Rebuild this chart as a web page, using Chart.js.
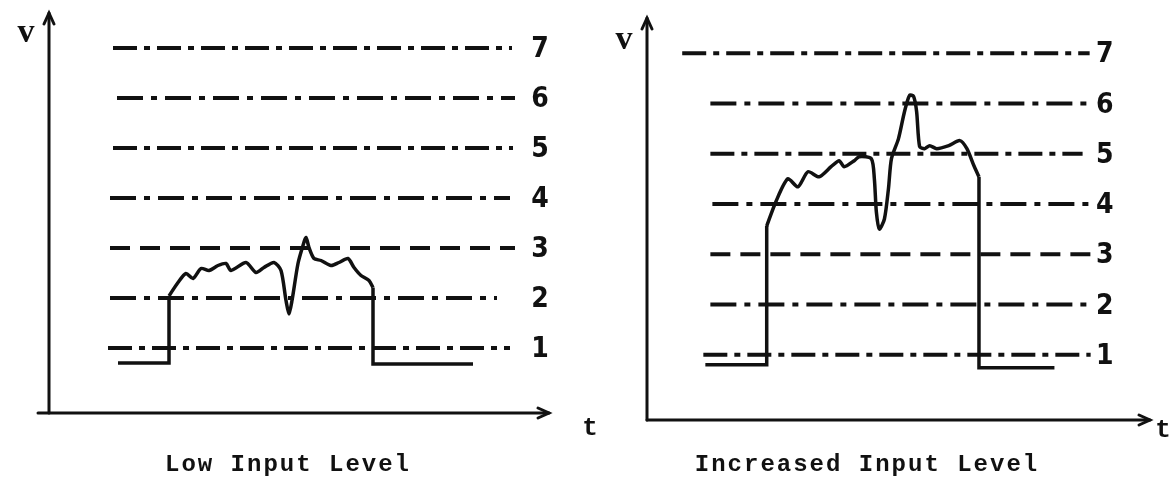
<!DOCTYPE html>
<html>
<head>
<meta charset="utf-8">
<script src="https://cdn.jsdelivr.net/npm/chart.js@4/dist/chart.umd.min.js"></script>
<style>
body{margin:0;background:#fff;}
#wrap{position:relative;width:1172px;height:489px;overflow:hidden;}
.panel{position:absolute;top:0;height:489px;}
</style>
</head>
<body>
<div id="wrap">
  <div class="panel" style="left:0;width:610px"><canvas id="graficoBajo"></canvas></div>
  <div class="panel" style="left:586px;width:586px"><canvas id="graficoAlto"></canvas></div>
</div>
<script>
//###Niveles de comparacion (1..7)
const levels = [1, 2, 3, 4, 5, 6, 7]
const levelLabels = ['1', '2', '3', '4', '5', '6', '7']
//inicio y fin de cada linea de nivel (tiempo)
const lowLineStart = [11.8, 12.2, 12.2, 12.2, 12.8, 13.6, 12.8]
const lowLineEnd = [92.2, 89.6, 93.2, 92.2, 92.8, 93.2, 92.6]
const highLineStart = [11.2, 12.6, 12.6, 13, 12.6, 12.6, 7]
const highLineEnd = [88.2, 88.2, 88.2, 88.2, 86.6, 87.8, 88]

//###Senal, nivel de entrada bajo
const lowT = [13.8, 24, 24, 25.8, 27.4, 28.8, 30.4, 32, 33.8, 35.4, 36.4, 39.4, 41.4, 43, 45, 46.4, 47.4, 48, 48.6, 49.8,
  50.8, 51.4, 52, 53, 54.4, 56.4, 58, 59.8, 61, 62.4, 64, 64.8, 64.8, 84.8]
const lowV = [0.7, 0.7, 2.04, 2.31, 2.49, 2.39, 2.59, 2.55, 2.65, 2.69, 2.55, 2.71, 2.51, 2.61, 2.71, 2.55, 1.95, 1.68, 1.95, 2.69,
  3.05, 3.21, 3.01, 2.79, 2.75, 2.65, 2.71, 2.79, 2.61, 2.45, 2.35, 2.21, 0.68, 0.68]

//###Senal, nivel de entrada aumentado
const highT = [11.6, 23.8, 23.8, 25.6, 28, 30, 32, 34.2, 36.6, 38.2, 39.2, 41.2, 42.2, 44.6, 45.2, 45.6, 46.2, 47.2, 48, 48.6,
  50, 51.2, 52.2, 53, 53.6, 54.2, 55.2, 56.2, 57.6, 60, 62.2, 63.6, 65, 66, 66, 81]
const highV = [0.8, 0.8, 3.56, 4.04, 4.5, 4.34, 4.64, 4.54, 4.74, 4.86, 4.74, 4.86, 4.94, 4.9, 4.5, 3.84, 3.5, 3.7, 4.3, 4.9,
  5.3, 5.84, 6.16, 6.14, 5.84, 5.14, 5.1, 5.16, 5.1, 5.16, 5.26, 5.1, 4.76, 4.54, 0.74, 0.74]

const ink = '#111'
//patrones de trazo (raya-punto)
const dashes = [[24, 7, 6, 7], [26, 8, 6, 8], [20, 10], [26, 8, 6, 8], [24, 7, 6, 7], [26, 8, 6, 8], [24, 7, 6, 7]]

function signalLine(data, tension) {
  return {data: data, borderColor: ink, borderWidth: 3.5, tension: tension, pointRadius: 0}
}

//###Funcion que arma los datasets de un grafico
function buildDatasets(t, v, starts, ends) {
  let pts = t.map((x, i) => ({x: x, y: v[i]}))
  let n = pts.length
  let sets = [
    signalLine(pts.slice(2, n - 2), 0.25), //parte ondulada
    signalLine(pts.slice(0, 3), 0),       //escalon de subida
    signalLine(pts.slice(n - 3), 0)       //escalon de bajada
  ]
  levels.forEach((lv, i) => {
    sets.push({
      data: [{x: starts[i], y: lv}, {x: ends[i], y: lv}],
      borderColor: ink,
      borderWidth: 4,
      borderDash: dashes[i],
      pointRadius: 0
    })
  })
  return sets
}

//###Plugin: ejes con flecha, numeros de nivel y titulos
const ejes = {
  id: 'ejes',
  afterDraw(chart, args, o) {
    const c = chart.ctx, a = chart.chartArea
    const xs = chart.scales.x, ys = chart.scales.y
    c.save()
    c.strokeStyle = ink
    c.fillStyle = ink
    c.lineWidth = 3
    c.lineCap = 'round'
    //eje vertical
    c.beginPath()
    c.moveTo(a.left, a.bottom)
    c.lineTo(a.left, a.top)
    c.stroke()
    c.beginPath()
    c.moveTo(a.left - 5, a.top + 11)
    c.lineTo(a.left, a.top)
    c.lineTo(a.left + 5, a.top + 11)
    c.stroke()
    //eje horizontal
    c.beginPath()
    c.moveTo(a.left - o.ext, a.bottom)
    c.lineTo(a.right, a.bottom)
    c.stroke()
    c.beginPath()
    c.moveTo(a.right - 11, a.bottom - 5)
    c.lineTo(a.right, a.bottom)
    c.lineTo(a.right - 11, a.bottom + 5)
    c.stroke()
    //numeros de nivel
    c.font = "bold 28px 'Liberation Sans Narrow', 'DejaVu Sans Condensed', sans-serif"
    c.textAlign = 'center'
    c.textBaseline = 'middle'
    levels.forEach((lv, i) => {
      c.fillText(levelLabels[i], xs.getPixelForValue(o.labelT), ys.getPixelForValue(lv) + 2)
    })
    //letras de ejes
    c.font = "bold 34px 'Liberation Serif', serif"
    c.fillText('v', o.vPos[0], o.vPos[1])
    c.font = "bold 26px 'Liberation Mono', monospace"
    c.fillText('t', o.tPos[0], o.tPos[1])
    //titulo
    c.font = "bold 24px 'Liberation Mono', 'Courier New', monospace"
    c.letterSpacing = '2px'
    c.fillText(o.title, o.titlePos[0], o.titlePos[1])
    c.restore()
  }
}

function options(pad, ej) {
  return {
    responsive: true,
    maintainAspectRatio: false,
    animation: false,
    layout: {padding: pad},
    scales: {
      x: {type: 'linear', min: 0, max: 100, display: false},
      y: {min: -0.3, max: 7.7, display: false}
    },
    plugins: {legend: {display: false}, tooltip: {enabled: false}, ejes: ej}
  }
}

var ctx = document.getElementById('graficoBajo').getContext('2d')
var bajo = new Chart(ctx, {
  type: 'line',
  data: {datasets: buildDatasets(lowT, lowV, lowLineStart, lowLineEnd)},
  options: options({left: 49, right: 61, top: 13, bottom: 76},
    {ext: 11, labelT: 98.2, vPos: [26, 33], tPos: [590, 428], title: 'Low Input Level', titlePos: [288, 465]}),
  plugins: [ejes]
})

var ctx = document.getElementById('graficoAlto').getContext('2d')
var alto = new Chart(ctx, {
  type: 'line',
  data: {datasets: buildDatasets(highT, highV, highLineStart, highLineEnd)},
  options: options({left: 61, right: 22, top: 18, bottom: 69},
    {ext: 0, labelT: 91, vPos: [38, 40], tPos: [577, 430], title: 'Increased Input Level', titlePos: [281, 465]}),
  plugins: [ejes]
})
</script>
</body>
</html>
